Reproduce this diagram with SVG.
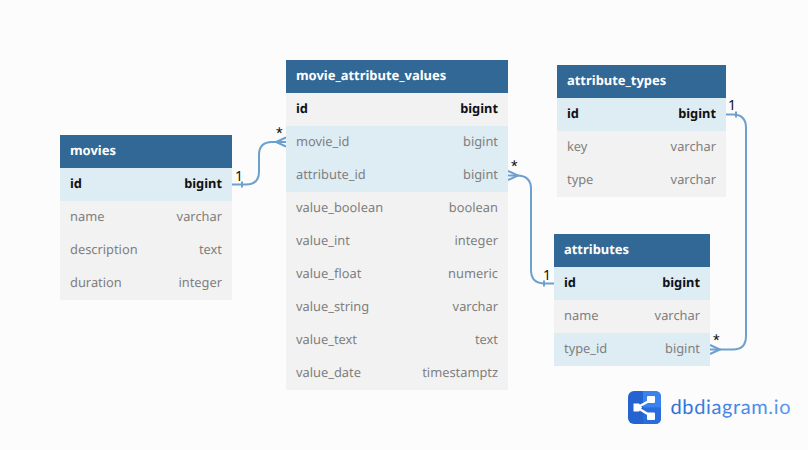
<svg xmlns="http://www.w3.org/2000/svg" width="808" height="450" viewBox="0 0 808 450">
<defs><linearGradient id="lg" gradientUnits="userSpaceOnUse" x1="670" y1="0" x2="791" y2="0"><stop offset="0" stop-color="#2f6ed4"/><stop offset="1" stop-color="#5a9bf0"/></linearGradient></defs>
<style>
text{font-family:"Noto Sans","Open Sans",sans-serif;font-size:12.85px;text-rendering:geometricPrecision}
.hd{fill:#316896}
.rw{fill:#f2f2f2}
.hl{fill:#deecf4}
.t{fill:#fff;font-weight:700;font-size:12.95px}
.n{fill:#7f7f7f}
.k{fill:#111;font-weight:700}
.e{text-anchor:end}
.c{fill:none;stroke:#6ca0cf;stroke-width:2}
.m{fill:#111;font-size:14px}
.s{font-family:"Liberation Sans",sans-serif;font-size:17px}
</style>
<rect width="808" height="450" fill="#fcfcfc"/>
<g id="connectors">
<path class="c" d="M232 184.500H246Q259 184.500 259 171.500V155Q259 142 272 142H286"/>
<path class="c" d="M242 181.500V187.500M286 137.500L276 142L286 146.500"/>
<path class="c" d="M508 175.500H517Q531 175.500 531 189V270Q531 283.500 545 283.500H554"/>
<path class="c" d="M544 280.500V286.500M508 171L518 175.500L508 180"/>
<path class="c" d="M726 114.500H733Q746 114.500 746 128V336Q746 349.500 733 349.500H710"/>
<path class="c" d="M736 111.500V117.500M710 345L720 349.500L710 354"/>
<text class="m" x="235" y="181">1</text>
<text class="m s" x="276" y="139">*</text>
<text class="m s" x="511" y="172">*</text>
<text class="m" x="543" y="280">1</text>
<text class="m" x="728" y="110">1</text>
<text class="m s" x="713" y="346">*</text>
</g>
<g id="movies">
<rect class="hd" x="60" y="135" width="172" height="33"/>
<rect class="rw" x="60" y="168" width="172" height="132"/>
<rect class="hl" x="60" y="168" width="172" height="33"/>
<text class="t" x="70" y="155">movies</text>
<text class="k" x="70" y="188">id</text><text class="k e" x="222" y="188">bigint</text>
<text class="n" x="70" y="221">name</text><text class="n e" x="222" y="221">varchar</text>
<text class="n" x="70" y="254">description</text><text class="n e" x="222" y="254">text</text>
<text class="n" x="70" y="287">duration</text><text class="n e" x="222" y="287">integer</text>
</g>
<g id="movie_attribute_values">
<rect class="hd" x="286" y="60" width="222" height="33"/>
<rect class="rw" x="286" y="93" width="222" height="297"/>
<rect class="hl" x="286" y="126" width="222" height="66"/>
<text class="t" x="296" y="80">movie_attribute_values</text>
<text class="k" x="296" y="113">id</text><text class="k e" x="498" y="113">bigint</text>
<text class="n" x="296" y="146">movie_id</text><text class="n e" x="498" y="146">bigint</text>
<text class="n" x="296" y="179">attribute_id</text><text class="n e" x="498" y="179">bigint</text>
<text class="n" x="296" y="212">value_boolean</text><text class="n e" x="498" y="212">boolean</text>
<text class="n" x="296" y="245">value_int</text><text class="n e" x="498" y="245">integer</text>
<text class="n" x="296" y="278">value_float</text><text class="n e" x="498" y="278">numeric</text>
<text class="n" x="296" y="311">value_string</text><text class="n e" x="498" y="311">varchar</text>
<text class="n" x="296" y="344">value_text</text><text class="n e" x="498" y="344">text</text>
<text class="n" x="296" y="377">value_date</text><text class="n e" x="498" y="377">timestamptz</text>
</g>
<g id="attribute_types">
<rect class="hd" x="557" y="65" width="169" height="33"/>
<rect class="rw" x="557" y="98" width="169" height="99"/>
<rect class="hl" x="557" y="98" width="169" height="33"/>
<text class="t" x="567" y="85">attribute_types</text>
<text class="k" x="567" y="118">id</text><text class="k e" x="716" y="118">bigint</text>
<text class="n" x="567" y="151">key</text><text class="n e" x="716" y="151">varchar</text>
<text class="n" x="567" y="184">type</text><text class="n e" x="716" y="184">varchar</text>
</g>
<g id="attributes">
<rect class="hd" x="554" y="234" width="156" height="33"/>
<rect class="rw" x="554" y="267" width="156" height="99"/>
<rect class="hl" x="554" y="267" width="156" height="33"/>
<rect class="hl" x="554" y="333" width="156" height="33"/>
<text class="t" x="564" y="254">attributes</text>
<text class="k" x="564" y="287">id</text><text class="k e" x="700" y="287">bigint</text>
<text class="n" x="564" y="320">name</text><text class="n e" x="700" y="320">varchar</text>
<text class="n" x="564" y="353">type_id</text><text class="n e" x="700" y="353">bigint</text>
</g>
<g id="logo">
<rect x="628" y="391" width="33" height="33" rx="6" fill="#2563d0"/>
<path d="M643 407.500H661V418Q661 424 655 424H643Z" fill="#2a6cdc"/>
<path d="M643 391H655Q661 391 661 397V407.500H643Z" fill="#3a82ee"/>
<path d="M637 407.500L651 400M637 407.500L651 416" stroke="#fff" stroke-width="2.500" fill="none"/>
<path d="M633.500 403.500H639L642 407.500L639 411.500H633.500Z" fill="#fff"/>
<rect x="647" y="396" width="8" height="7" rx="1" fill="#fff"/>
<rect x="647" y="412.500" width="8" height="7.500" rx="1" fill="#fff"/>
<text x="670.500" y="414" textLength="120" lengthAdjust="spacing" style="font-family:Lato,'Noto Sans',sans-serif;font-size:20px" fill="url(#lg)">dbdiagram.io</text>
</g>
</svg>
